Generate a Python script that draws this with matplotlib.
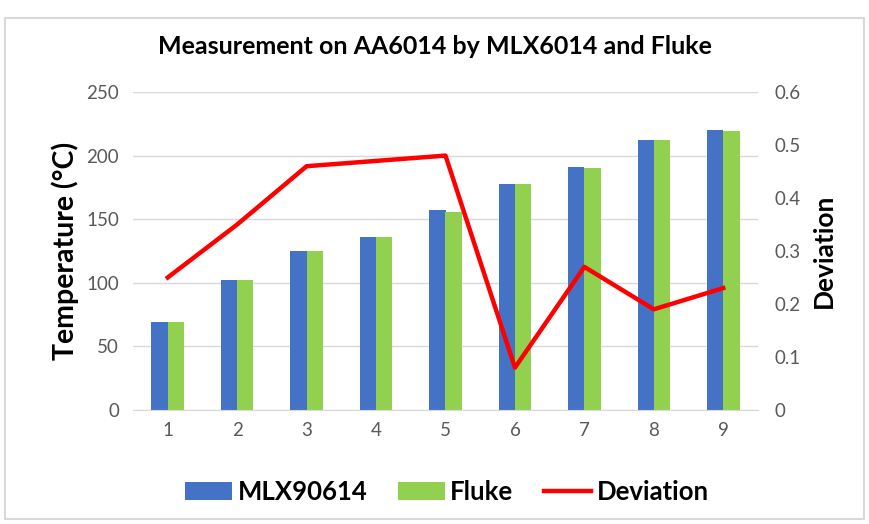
import matplotlib
from matplotlib import pyplot as plt
import numpy as np

plt.rcParams['font.family'] = ['Lato', 'DejaVu Sans']

# data
points = ['1', '2', '3', '4', '5', '6', '7', '8', '9']
mlx = [69, 102, 125, 136, 157, 178, 191, 212, 220]
fluke = [69, 102, 125, 136, 156, 178, 190, 212, 219]
deviation = [0.25, 0.35, 0.46, 0.47, 0.48, 0.08, 0.27, 0.19, 0.23]

fig = plt.figure(figsize=(8.69, 5.24), dpi=100)
ax = fig.add_axes([133/869, 1 - 410/524, (758-133)/869, (410-92)/524])
ax2 = ax.twinx()

x = np.arange(len(points))
w = 0.235
ax.bar(x - w/2, mlx, w, color='#4472C4', label='MLX90614', zorder=2)
ax.bar(x + w/2, fluke, w, color='#92D050', label='Fluke', zorder=2)
ax2.plot(x, deviation, color='#FF0000', lw=3.2, label='Deviation', zorder=3)

ax.set_xlim(-0.5, len(points) - 0.5)
ax.set_ylim(0, 250)
ax.set_yticks(range(0, 251, 50))
ax2.set_ylim(0, 0.6)
ax2.set_yticks([0, 0.1, 0.2, 0.3, 0.4, 0.5, 0.6])
ax2.set_yticklabels(['0', '0.1', '0.2', '0.3', '0.4', '0.5', '0.6'])
ax.set_xticks(x)
ax.set_xticklabels(points)

ax.grid(axis='y', color='#d9d9d9', lw=1, zorder=0)
for a in (ax, ax2):
    for s in a.spines.values():
        s.set_visible(False)
    a.tick_params(length=0, labelsize=13.5, labelcolor='#595959')
ax.spines['bottom'].set_visible(True)
ax.spines['bottom'].set_color('#d9d9d9')
ax.tick_params(axis='y', pad=10)
ax.tick_params(axis='x', pad=9)
ax2.tick_params(axis='y', pad=12)

ax.set_ylabel('Temperature (°C)', fontsize=20.5, fontweight='bold', labelpad=5)
ax2.set_ylabel('Deviation', fontsize=19, fontweight='bold', labelpad=8)

fig.text(0.5, 1 - 46/524, 'Measurement on AA6014 by MLX6014 and Fluke',
         ha='center', va='center', fontsize=18, fontweight='bold')

h1, l1 = ax.get_legend_handles_labels()
h2, l2 = ax2.get_legend_handles_labels()
fig.legend(h1 + h2, l1 + l2, loc='center', bbox_to_anchor=(447/869, 1 - 492/524),
           ncol=3, frameon=False, prop={'size': 18.5, 'weight': 'bold'},
           handlelength=1.83, handleheight=0.66, columnspacing=1.2, handletextpad=0.2)

# chart border
fig.patches.append(matplotlib.patches.Rectangle((0.006, 0.01), 0.988, 0.955,
                   transform=fig.transFigure, fill=False, edgecolor='#d9d9d9', lw=1.5))

fig.savefig('out.png', dpi=100)
